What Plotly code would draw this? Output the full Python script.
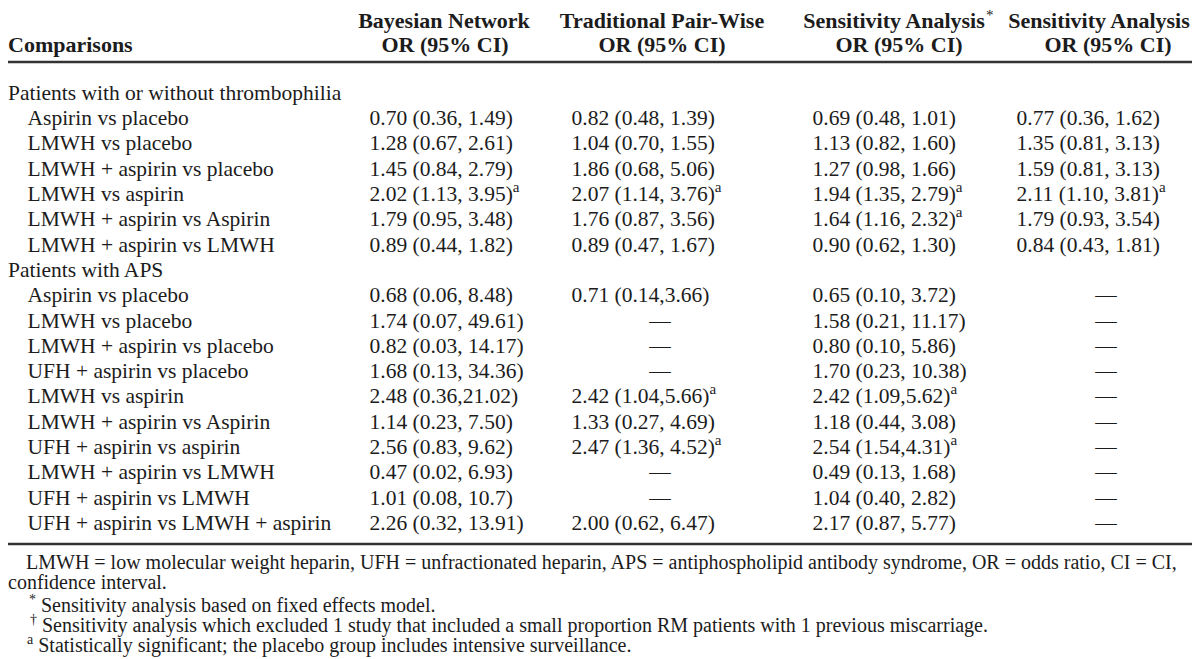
import plotly.graph_objects as go

# ---------------- data ----------------
header_line1 = ["Bayesian Network", "Traditional Pair-Wise", "Sensitivity Analysis", "Sensitivity Analysis"]
header_marks = ["", "", "*", "†"]
header_line2 = ["OR (95% CI)", "OR (95% CI)", "OR (95% CI)", "OR (95% CI)"]
first_header = "Comparisons"

group_titles = ["Patients with or without thrombophilia", "Patients with APS"]

g1_comparisons = ["Aspirin vs placebo", "LMWH vs placebo", "LMWH + aspirin vs placebo",
                  "LMWH vs aspirin", "LMWH + aspirin vs Aspirin", "LMWH + aspirin vs LMWH"]
g1_bayesian = ["0.70 (0.36, 1.49)", "1.28 (0.67, 2.61)", "1.45 (0.84, 2.79)",
               "2.02 (1.13, 3.95)", "1.79 (0.95, 3.48)", "0.89 (0.44, 1.82)"]
g1_bayesian_sig = [0, 0, 0, 1, 0, 0]
g1_pairwise = ["0.82 (0.48, 1.39)", "1.04 (0.70, 1.55)", "1.86 (0.68, 5.06)",
               "2.07 (1.14, 3.76)", "1.76 (0.87, 3.56)", "0.89 (0.47, 1.67)"]
g1_pairwise_sig = [0, 0, 0, 1, 0, 0]
g1_sens_fixed = ["0.69 (0.48, 1.01)", "1.13 (0.82, 1.60)", "1.27 (0.98, 1.66)",
                 "1.94 (1.35, 2.79)", "1.64 (1.16, 2.32)", "0.90 (0.62, 1.30)"]
g1_sens_fixed_sig = [0, 0, 0, 1, 1, 0]
g1_sens_excl = ["0.77 (0.36, 1.62)", "1.35 (0.81, 3.13)", "1.59 (0.81, 3.13)",
                "2.11 (1.10, 3.81)", "1.79 (0.93, 3.54)", "0.84 (0.43, 1.81)"]
g1_sens_excl_sig = [0, 0, 0, 1, 0, 0]

g2_comparisons = ["Aspirin vs placebo", "LMWH vs placebo", "LMWH + aspirin vs placebo",
                  "UFH + aspirin vs placebo", "LMWH vs aspirin", "LMWH + aspirin vs Aspirin",
                  "UFH + aspirin vs aspirin", "LMWH + aspirin vs LMWH", "UFH + aspirin vs LMWH",
                  "UFH + aspirin vs LMWH + aspirin"]
g2_bayesian = ["0.68 (0.06, 8.48)", "1.74 (0.07, 49.61)", "0.82 (0.03, 14.17)",
               "1.68 (0.13, 34.36)", "2.48 (0.36,21.02)", "1.14 (0.23, 7.50)",
               "2.56 (0.83, 9.62)", "0.47 (0.02, 6.93)", "1.01 (0.08, 10.7)",
               "2.26 (0.32, 13.91)"]
g2_bayesian_sig = [0, 0, 0, 0, 0, 0, 0, 0, 0, 0]
g2_pairwise = ["0.71 (0.14,3.66)", None, None, None, "2.42 (1.04,5.66)",
               "1.33 (0.27, 4.69)", "2.47 (1.36, 4.52)", None, None, "2.00 (0.62, 6.47)"]
g2_pairwise_sig = [0, 0, 0, 0, 1, 0, 1, 0, 0, 0]
g2_sens_fixed = ["0.65 (0.10, 3.72)", "1.58 (0.21, 11.17)", "0.80 (0.10, 5.86)",
                 "1.70 (0.23, 10.38)", "2.42 (1.09,5.62)", "1.18 (0.44, 3.08)",
                 "2.54 (1.54,4.31)", "0.49 (0.13, 1.68)", "1.04 (0.40, 2.82)",
                 "2.17 (0.87, 5.77)"]
g2_sens_fixed_sig = [0, 0, 0, 0, 1, 0, 1, 0, 0, 0]
g2_sens_excl = [None] * 10
g2_sens_excl_sig = [0] * 10

footnotes = [
    "LMWH = low molecular weight heparin, UFH = unfractionated heparin, APS = antiphospholipid antibody syndrome, OR = odds ratio, CI = CI,",
    "confidence interval.",
    "<sup>*</sup> Sensitivity analysis based on fixed effects model.",
    "<sup>†</sup> Sensitivity analysis which excluded 1 study that included a small proportion RM patients with 1 previous miscarriage.",
    "<sup>a</sup> Statistically significant; the placebo group includes intensive surveillance.",
]

# ---------------- layout / style ----------------
W, H = 1200, 659
FONT = "Liberation Serif, Times New Roman, serif"
FS = 21.5
FS_HEAD = 22
FS_MARK = 15
FS_FOOT = 20.0
COLOR = "#1c1c1c"

label_x = 0
indent_x = 19.5
value_x = [361.5, 563.5, 804.5, 1008.5]
head1_center = [436, 654, 886, 1091]
head2_center = [437, 654, 891, 1100]
mark_x = [None, None, 978, 1186]   # left edge of the header footnote marks
mark_y = 8.5
dash_center = [440, 652, 888, 1098]
row0_y = 86.5
row_pitch = 25.3
head1_y, head2_y = 14.5, 38
top_rule_y, bottom_rule_y = 54, 536
foot_y = [556, 576, 599, 619, 639]
foot_x = [18, 0, 21, 22, 19]

groups = [
    (group_titles[0], g1_comparisons,
     [(g1_bayesian, g1_bayesian_sig), (g1_pairwise, g1_pairwise_sig),
      (g1_sens_fixed, g1_sens_fixed_sig), (g1_sens_excl, g1_sens_excl_sig)]),
    (group_titles[1], g2_comparisons,
     [(g2_bayesian, g2_bayesian_sig), (g2_pairwise, g2_pairwise_sig),
      (g2_sens_fixed, g2_sens_fixed_sig), (g2_sens_excl, g2_sens_excl_sig)]),
]

label_pts = {"x": [], "y": [], "t": []}
val_pts = [{"x": [], "y": [], "t": []} for _ in range(4)]
dash_pts = [{"x": [], "y": [], "t": []} for _ in range(4)]

r = 0
for title, comps, cols in groups:
    label_pts["x"].append(label_x); label_pts["y"].append(row0_y + r * row_pitch); label_pts["t"].append(title)
    r += 1
    for i, c in enumerate(comps):
        y = row0_y + r * row_pitch
        label_pts["x"].append(indent_x); label_pts["y"].append(y); label_pts["t"].append(c)
        for k, (vals, sig) in enumerate(cols):
            v = vals[i]
            if v is None:
                dash_pts[k]["x"].append(dash_center[k]); dash_pts[k]["y"].append(y); dash_pts[k]["t"].append("—")
            else:
                val_pts[k]["x"].append(value_x[k]); val_pts[k]["y"].append(y)
                val_pts[k]["t"].append(v + ("<sup>a</sup>" if sig[i] else ""))
        r += 1

fig = go.Figure()
font = dict(family=FONT, size=FS, color=COLOR)
font_head = dict(family=FONT, size=FS_HEAD, color=COLOR)
font_mark = dict(family=FONT, size=FS_MARK, color=COLOR)
font_foot = dict(family=FONT, size=FS_FOOT, color=COLOR)

def add_text(xs, ys, ts, pos, name, f=font):
    fig.add_trace(go.Scatter(x=xs, y=ys, text=ts, mode="text", textposition=pos,
                             marker=dict(size=0),
                             textfont=f, hoverinfo="skip", showlegend=False, name=name,
                             cliponaxis=False))

# headers
add_text([label_x], [head2_y], ["<b>" + first_header + "</b>"], "middle right", "hdr0", font_head)
add_text(head1_center, [head1_y] * 4, ["<b>" + h + "</b>" for h in header_line1],
         "middle center", "hdr1", font_head)
mk = [(mark_x[k], m) for k, m in enumerate(header_marks) if m]
add_text([p[0] for p in mk], [mark_y] * len(mk), [p[1] for p in mk], "middle right", "hdrmarks", font_mark)
add_text(head2_center, [head2_y] * 4, ["<b>" + h + "</b>" for h in header_line2], "middle center", "hdr2", font_head)

add_text(label_pts["x"], label_pts["y"], label_pts["t"], "middle right", "labels")
for k in range(4):
    if val_pts[k]["x"]:
        add_text(val_pts[k]["x"], val_pts[k]["y"], val_pts[k]["t"], "middle right", f"col{k}")
    if dash_pts[k]["x"]:
        add_text(dash_pts[k]["x"], dash_pts[k]["y"], dash_pts[k]["t"], "middle center", f"dash{k}")

add_text(foot_x, foot_y, footnotes, "middle right", "foot", font_foot)

for yy in (top_rule_y, bottom_rule_y):
    fig.add_shape(type="line", xref="x", yref="y", x0=0, x1=W, y0=yy, y1=yy,
                  line=dict(color="#333333", width=2.5))

fig.update_layout(
    width=W, height=H, margin=dict(l=0, r=0, t=0, b=0),
    paper_bgcolor="white", plot_bgcolor="white",
    xaxis=dict(range=[0, W], visible=False, fixedrange=True),
    yaxis=dict(range=[H, 0], visible=False, fixedrange=True),
)

fig.write_html("out.html")
